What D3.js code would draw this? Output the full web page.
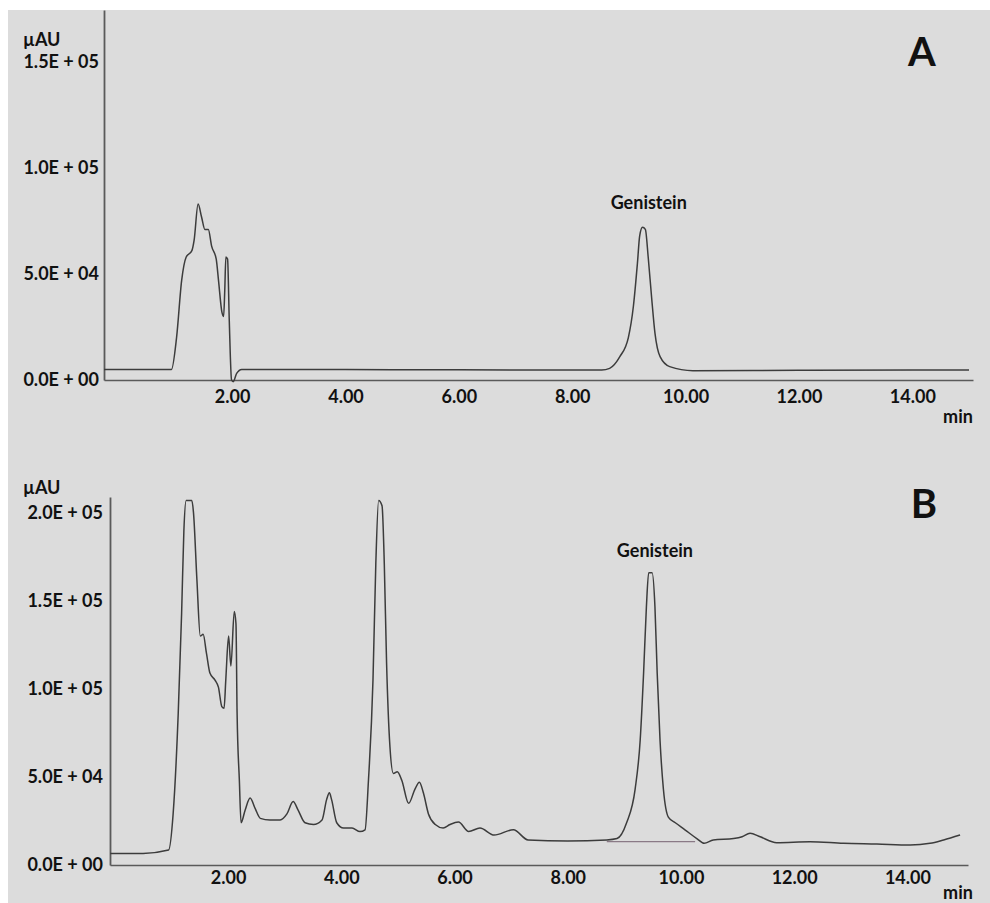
<!DOCTYPE html>
<html>
<head>
<meta charset="utf-8">
<script src="https://cdn.jsdelivr.net/npm/d3@7"></script>
<style>
  html, body { margin: 0; padding: 0; background: #fff; }
  svg { display: block; }
  text { font-family: Lato, "Open Sans", sans-serif; font-weight: 700; fill: #111; }
</style>
</head>
<body>
<svg id="chart" width="990" height="903"></svg>
<script>
/* Panel A: genistein standard (time in min, signal in µAU) */
const timeA = [-0.26, 0.50, 0.93, 1.02, 1.11, 1.19, 1.29, 1.33, 1.40, 1.46, 1.52, 1.58, 1.64, 1.72, 1.76,
  1.82, 1.85, 1.87, 1.89, 1.92, 1.95, 1.99, 2.02, 2.08, 2.17, 4.00, 6.00, 8.00, 8.52, 8.66, 8.84, 8.99,
  9.08, 9.15, 9.19, 9.24, 9.29, 9.34, 9.40, 9.46, 9.55, 9.72, 10.13, 12.00, 14.00, 15.00];
const signalA = [5000, 5000, 5000, 20000, 47000, 58000, 61000, 66000, 83000, 77000, 71000, 71000, 63000, 57000, 47000,
  32000, 30000, 42000, 58000, 57000, 28000, 0, -800, 3100, 5000, 4900, 4800, 4700, 4700, 5500, 11000, 20000,
  35000, 55000, 68000, 72000, 71000, 58000, 39000, 22000, 11000, 6300, 4400, 4600, 4700, 4700];

/* Panel B: sample extract */
const timeB = [-0.08, 0.50, 0.95, 1.03, 1.12, 1.18, 1.22, 1.26, 1.36, 1.39, 1.45, 1.51, 1.56, 1.62, 1.68,
  1.77, 1.83, 1.89, 1.93, 1.96, 2.01, 2.05, 2.11, 2.14, 2.16, 2.20, 2.23, 2.30, 2.39, 2.48, 2.57, 2.74,
  2.92, 3.04, 3.15, 3.24, 3.36, 3.51, 3.66, 3.74, 3.79, 3.83, 3.92, 4.04, 4.19, 4.33, 4.42, 4.48, 4.56,
  4.61, 4.66, 4.72, 4.76, 4.80, 4.86, 4.92, 4.99, 5.07, 5.19, 5.30, 5.38, 5.45, 5.54, 5.66, 5.80, 5.92,
  6.07, 6.25, 6.45, 6.70, 7.04, 7.30, 8.00, 8.69, 8.87, 9.04, 9.19, 9.28, 9.34, 9.39, 9.43, 9.49, 9.54,
  9.58, 9.63, 9.69, 9.78, 9.90, 10.07, 10.28, 10.41, 10.57, 10.93, 11.08, 11.22, 11.40, 11.69, 12.28,
  12.87, 13.46, 14.05, 14.40, 14.64, 14.93];
const signalB = [6600, 6600, 8500, 29000, 86000, 143000, 190000, 207000, 207000, 200000, 162000, 130000, 131000, 120000, 109000,
  105000, 101000, 90000, 89000, 105000, 130000, 113000, 144000, 137000, 86000, 48000, 24000, 31000, 38000, 32000, 26500, 25600,
  25600, 29000, 36000, 31000, 24000, 23000, 25600, 37000, 41000, 37000, 24000, 21000, 21000, 19000, 20000, 48000, 105000,
  171000, 207000, 204000, 171000, 115000, 67000, 52000, 53000, 48000, 35000, 43000, 47000, 41000, 29000, 23000, 21000, 23000,
  24400, 19000, 21000, 17000, 20000, 14200, 13600, 14200, 15000, 24000, 43000, 71000, 109000, 147000, 166000, 166000, 147000,
  109000, 71000, 43000, 27000, 24000, 20000, 15000, 12300, 14200, 15000, 16000, 18000, 16000, 12700, 13200,
  12300, 11900, 11400, 12300, 14200, 17000];

/* integration baseline drawn under the genistein peak in B */
const peakBaseB = [[8.69, 13300], [10.25, 13300]];

const xTicks = [2, 4, 6, 8, 10, 12, 14];
const yTicksA = [0, 50000, 100000, 150000];
const yTicksB = [0, 50000, 100000, 150000, 200000];

function sciLabel(v) {
  if (v === 0) return "0.0E + 00";
  const e = Math.floor(Math.log10(v));
  const m = (v / Math.pow(10, e)).toFixed(1);
  return m + "E + " + String(e).padStart(2, "0");
}

const svg = d3.select("#chart");

// scanned-page grey background
svg.append("rect")
  .attr("x", 8).attr("y", 10)
  .attr("width", 982).attr("height", 893)
  .attr("fill", "#dcdcdc");

function drawPanel(cfg) {
  const x = d3.scaleLinear().domain(cfg.xDomain).range(cfg.xRange);
  const y = d3.scaleLinear().domain(cfg.yDomain).range(cfg.yRange);
  const g = svg.append("g");

  const xAxis = g.append("g")
    .attr("transform", `translate(0,${cfg.yRange[0]})`)
    .call(d3.axisBottom(x).tickValues(xTicks).tickSize(0).tickSizeOuter(0)
      .tickPadding(cfg.xPad).tickFormat(d => d.toFixed(2)));
  xAxis.select(".domain").attr("stroke", "#5a5a5a").attr("stroke-width", 1.6);
  xAxis.selectAll("text").style("font-size", "18px").attr("fill", "#111");

  const yAxis = g.append("g")
    .attr("transform", `translate(${cfg.xRange[0]},0)`)
    .call(d3.axisLeft(y).tickValues(cfg.yTicks).tickSize(0).tickSizeOuter(0)
      .tickPadding(cfg.yPad).tickFormat(sciLabel));
  yAxis.select(".domain").attr("stroke", "#5a5a5a").attr("stroke-width", 1.8);
  yAxis.selectAll("text").style("font-size", "18px").attr("fill", "#111");

  const line = d3.line()
    .x(d => x(d[0]))
    .y(d => y(d[1]))
    .curve(d3.curveMonotoneX);

  if (cfg.base) {
    g.append("path")
      .attr("d", d3.line().x(d => x(d[0])).y(d => y(d[1]))(cfg.base))
      .attr("fill", "none")
      .attr("stroke", "#8a7a86")
      .attr("stroke-width", 1.2);
  }

  const pts = cfg.time.map((t, i) => [t, cfg.signal[i]]);
  g.append("path")
    .attr("d", line(pts))
    .attr("fill", "none")
    .attr("stroke", "#3c3c3c")
    .attr("stroke-width", 1.5)
    .attr("stroke-linejoin", "round");

  g.append("text")
    .attr("x", cfg.unitPos[0]).attr("y", cfg.unitPos[1])
    .style("font-size", "18px")
    .text("µAU");

  g.append("text")
    .attr("x", cfg.minPos[0]).attr("y", cfg.minPos[1])
    .attr("text-anchor", "middle")
    .style("font-size", "18px")
    .text("min");

  g.append("text")
    .attr("x", x(cfg.peakLabel[0])).attr("y", cfg.peakLabel[1])
    .attr("text-anchor", "middle")
    .style("font-size", "18px")
    .text("Genistein");

  g.append("text")
    .attr("x", cfg.letterPos[0]).attr("y", cfg.letterPos[1])
    .attr("text-anchor", "middle")
    .style("font-size", "40px")
    .attr("fill", "#000")
    .text(cfg.letter);
}

drawPanel({
  time: timeA, signal: signalA, yTicks: yTicksA,
  xDomain: [-0.26, 15.07], xRange: [104, 973],
  yDomain: [0, 174500], yRange: [380, 10],
  xPad: 10, yPad: 5,
  unitPos: [23, 46], minPos: [958, 423],
  peakLabel: [9.35, 209], letter: "A", letterPos: [922, 66]
});

drawPanel({
  time: timeB, signal: signalB, yTicks: yTicksB, base: peakBaseB,
  xDomain: [-0.085, 15.07], xRange: [110, 968],
  yDomain: [0, 209000], yRange: [865, 497],
  xPad: 6, yPad: 7,
  unitPos: [23, 494], minPos: [958, 899],
  peakLabel: [9.54, 557], letter: "B", letterPos: [924, 518]
});
</script>
</body>
</html>
